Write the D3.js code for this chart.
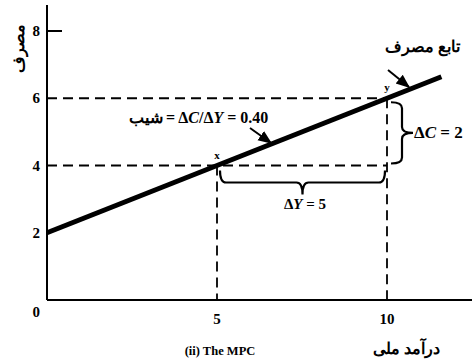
<!DOCTYPE html>
<html><head><meta charset="utf-8">
<script src="https://cdn.jsdelivr.net/npm/d3@7"></script>
<style>body{margin:0;background:#fff}svg{display:block}text{font-family:"Liberation Serif","DejaVu Serif",serif;font-weight:bold;fill:#000}</style>
</head><body><svg id="c" width="472" height="363"></svg>
<script>
const xTicks = [5, 10];
const yTicks = [2, 4, 6, 8];
const intercept = 2;
const mpc = 0.4;
const lineRange = [0, 11.6];
const points = [{x:5, y:4, label:"x"}, {x:10, y:6, label:"y"}];

const svg = d3.select("#c");
const x = d3.scaleLinear().domain([0, 12.5]).range([47, 472]);
const y = d3.scaleLinear().domain([0, 8]).range([300, 31]);
const f = v => intercept + mpc * v;

const defs = svg.append("defs");
defs.append("marker").attr("id","ah").attr("viewBox","0 0 10 10").attr("refX",9).attr("refY",5)
  .attr("markerWidth",7).attr("markerHeight",7).attr("orient","auto")
  .append("path").attr("d","M0,1L10,5L0,9Z").attr("fill","#000");

// axes
svg.append("line").attr("x1",x(0)).attr("x2",x(0)).attr("y1",5).attr("y2",y(0)).attr("stroke","#000").attr("stroke-width",2);
svg.append("line").attr("x1",x(0)).attr("x2",472).attr("y1",y(0)).attr("y2",y(0)).attr("stroke","#000").attr("stroke-width",2);
svg.append("line").attr("x1",x(0)).attr("x2",x(0)+15).attr("y1",y(8)).attr("y2",y(8)).attr("stroke","#000").attr("stroke-width",2);

// tick labels
svg.selectAll(".yt").data(yTicks).join("text").attr("x",x(0)-7).attr("y",d=>y(d)+5)
  .attr("text-anchor","end").attr("font-size",15).text(d=>d);
svg.append("text").attr("x",x(0)-7).attr("y",y(0)+17).attr("text-anchor","end").attr("font-size",15).text("0");
svg.selectAll(".xt").data(xTicks).join("text").attr("x",d=>x(d)).attr("y",y(0)+24)
  .attr("text-anchor","middle").attr("font-size",15).text(d=>d);

// dashed guides
const dash = "10,6";
points.forEach(p => {
  svg.append("line").attr("x1",x(0)).attr("x2",x(10)).attr("y1",y(p.y)).attr("y2",y(p.y))
    .attr("stroke","#000").attr("stroke-width",1.8).attr("stroke-dasharray",dash);
  svg.append("line").attr("x1",x(p.x)).attr("x2",x(p.x)).attr("y1",y(p.y)).attr("y2",y(0))
    .attr("stroke","#000").attr("stroke-width",1.8).attr("stroke-dasharray",dash);
});

// consumption line
svg.append("path").datum(lineRange).attr("d", d3.line().x(d=>x(d)).y(d=>y(f(d))))
  .attr("stroke","#000").attr("stroke-width",5).attr("fill","none");

// point labels
svg.selectAll(".pl").data(points).join("text").attr("x",d=>x(d.x)).attr("y",d=>y(d.y)-7)
  .attr("text-anchor","middle").attr("font-size",11).text(d=>d.label);

// braces
function braceH(x1, x2, yy, h){ const m=(x1+x2)/2, r=6;
  return `M${x1},${yy} Q${x1},${yy+h/2} ${x1+r},${yy+h/2} L${m-r},${yy+h/2} Q${m},${yy+h/2} ${m},${yy+h} Q${m},${yy+h/2} ${m+r},${yy+h/2} L${x2-r},${yy+h/2} Q${x2},${yy+h/2} ${x2},${yy}`; }
function braceV(xx, y1, y2, w){ const m=(y1+y2)/2, r=6;
  return `M${xx},${y1} Q${xx+w/2},${y1} ${xx+w/2},${y1+r} L${xx+w/2},${m-r} Q${xx+w/2},${m} ${xx+w},${m} Q${xx+w/2},${m} ${xx+w/2},${m+r} L${xx+w/2},${y2-r} Q${xx+w/2},${y2} ${xx},${y2}`; }
svg.append("path").attr("d",braceH(x(5)+3, x(10)-2, y(4)+5, 24)).attr("stroke","#000").attr("stroke-width",2.2).attr("fill","none");
svg.append("path").attr("d",braceV(x(10)+4, y(6)+4, y(4)-2, 22)).attr("stroke","#000").attr("stroke-width",2.2).attr("fill","none");

svg.append("text").attr("x",(x(5)+x(10))/2+3).attr("y",y(4)+43).attr("text-anchor","middle").attr("font-size",15)
  .html('Δ<tspan font-style="italic">Y</tspan> = 5');
svg.append("text").attr("x",x(10)+27).attr("y",y(5)+6).attr("font-size",17)
  .html('Δ<tspan font-style="italic">C</tspan> = 2');

// slope label
svg.append("text").attr("x",163).attr("y",123).attr("text-anchor","end").attr("font-size",16).attr("font-family","'DejaVu Sans',sans-serif").text("شیب");
svg.append("text").attr("x",166).attr("y",123).attr("font-size",16)
  .html('= Δ<tspan font-style="italic">C</tspan>/Δ<tspan font-style="italic">Y</tspan> = 0.40');
svg.append("line").attr("x1",250).attr("y1",128).attr("x2",271).attr("y2",143).attr("stroke","#000").attr("stroke-width",2).attr("marker-end","url(#ah)");

// function label
svg.append("text").attr("x",460).attr("y",52).attr("text-anchor","end").attr("font-size",16).attr("font-family","'DejaVu Sans',sans-serif").text("تابع مصرف");
svg.append("line").attr("x1",388).attr("y1",70).attr("x2",409).attr("y2",87).attr("stroke","#000").attr("stroke-width",2).attr("marker-end","url(#ah)");

// axis titles
svg.append("text").attr("transform","translate(24,48) rotate(-90)").attr("text-anchor","middle").attr("font-size",16).attr("font-family","'DejaVu Sans',sans-serif").text("مصرف");
svg.append("text").attr("x",440).attr("y",354).attr("text-anchor","end").attr("font-size",16).attr("font-family","'DejaVu Sans',sans-serif").text("درآمد ملی");
svg.append("text").attr("x",220).attr("y",355).attr("text-anchor","middle").attr("font-size",12.5).text("(ii)  The MPC");
</script></body></html>
